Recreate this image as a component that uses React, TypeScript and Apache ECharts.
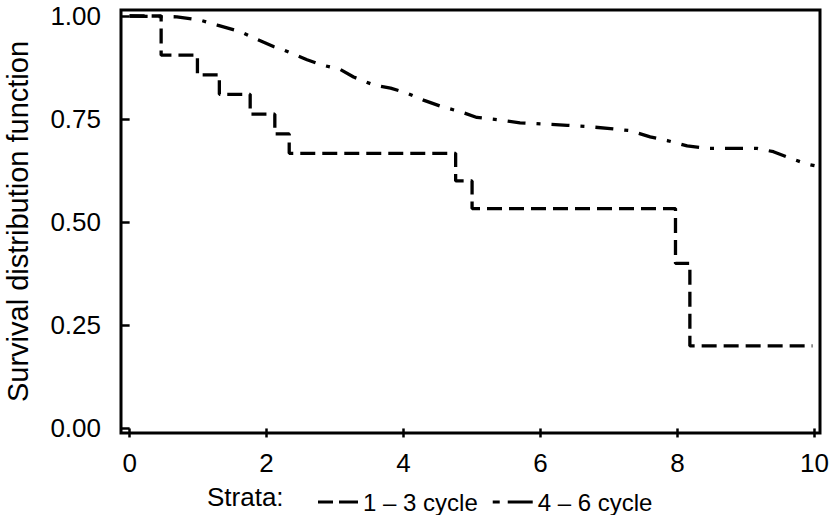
import React, { useEffect, useRef } from "react";
import * as echarts from "echarts";

// Kaplan–Meier estimates
const strata = ["1 – 3 cycle", "4 – 6 cycle"];

// 1 – 3 cycle: [time, survival] (step function, drop at each time)
const cycle13: [number, number][] = [
  [0, 1.0],
  [0.46, 0.905],
  [0.99, 0.857],
  [1.31, 0.81],
  [1.76, 0.762],
  [2.12, 0.714],
  [2.33, 0.667],
  [4.76, 0.6],
  [5.0, 0.533],
  [7.97, 0.4],
  [8.18, 0.2],
  [9.97, 0.2],
];

// 4 – 6 cycle: [time, survival] (many small steps, traced)
const cycle46: [number, number][] = [
  [0, 1.0],
  [0.69, 0.998],
  [1.03, 0.99],
  [1.28, 0.978],
  [1.62, 0.962],
  [1.81, 0.947],
  [2.1, 0.926],
  [2.24, 0.918],
  [2.59, 0.894],
  [2.79, 0.882],
  [3.08, 0.87],
  [3.27, 0.852],
  [3.56, 0.833],
  [3.81, 0.825],
  [4.05, 0.813],
  [4.29, 0.796],
  [4.58, 0.779],
  [4.83, 0.768],
  [5.07, 0.754],
  [5.41, 0.748],
  [5.7, 0.741],
  [6.04, 0.738],
  [6.39, 0.735],
  [6.68, 0.732],
  [7.02, 0.727],
  [7.31, 0.722],
  [7.6, 0.707],
  [7.85, 0.698],
  [8.14, 0.685],
  [8.43, 0.679],
  [9.16, 0.679],
  [9.4, 0.671],
  [9.65, 0.655],
  [9.89, 0.641],
  [10.0, 0.637],
];

const xTicks = [0, 2, 4, 6, 8, 10];
const yTicks = [0, 0.25, 0.5, 0.75, 1.0];

const FONT = "'Liberation Sans', Arial, Helvetica, sans-serif";

export default function App() {
  const ref = useRef<HTMLDivElement>(null);

  useEffect(() => {
    if (!ref.current) return;
    const chart = echarts.init(ref.current, undefined, { renderer: "svg" });
    chart.setOption({
      animation: false,
      backgroundColor: "#ffffff",
      textStyle: { fontFamily: FONT, color: "#000" },
      grid: {
        left: 121,
        right: 9,
        top: 10,
        bottom: 82,
        show: true,
        borderColor: "#000",
        borderWidth: 3,
        backgroundColor: "transparent",
        containLabel: false,
        outerBoundsMode: "none",
      },
      xAxis: {
        type: "value",
        min: -0.126,
        max: 10.08,
        splitLine: { show: false },
        axisLine: { show: false },
        axisTick: {
          show: true,
          customValues: xTicks,
          length: 9,
          lineStyle: { color: "#000", width: 2.5 },
        },
        axisLabel: {
          customValues: xTicks,
          color: "#000",
          fontSize: 26,
          fontFamily: FONT,
          margin: 17,
          formatter: (v: number) => String(v),
        },
      },
      yAxis: {
        type: "value",
        min: -0.011,
        max: 1.0145,
        name: "Survival distribution function",
        nameLocation: "middle",
        nameGap: 89,
        nameTextStyle: { fontSize: 29, color: "#000", fontFamily: FONT },
        splitLine: { show: false },
        axisLine: { show: false },
        axisTick: {
          show: true,
          customValues: yTicks,
          length: 9,
          lineStyle: { color: "#000", width: 2.5 },
        },
        axisLabel: {
          customValues: yTicks,
          color: "#000",
          fontSize: 26,
          fontFamily: FONT,
          margin: 20,
          formatter: (v: number) => v.toFixed(2),
        },
      },
      legend: {
        left: 313,
        top: 485,
        itemWidth: 40,
        itemHeight: 4,
        itemGap: 15,
        data: [
          { name: strata[0], icon: "path://M0,0H15V3H0Z M21,0H40V3H21Z" },
          { name: strata[1], icon: "path://M0,0H7V3H0Z M15,0H40V3H15Z" },
        ],
        itemStyle: { color: "#000" },
        textStyle: { fontSize: 24, color: "#000", fontFamily: FONT },
      },
      graphic: [
        {
          type: "text",
          left: 207,
          top: 484,
          style: {
            text: "Strata:",
            fontSize: 26,
            fontFamily: FONT,
            fill: "#000",
          },
        },
      ],
      series: [
        {
          name: strata[0],
          type: "line",
          step: "end",
          data: cycle13,
          showSymbol: false,
          symbol: "none",
          lineStyle: { color: "#000", width: 3.3, type: [15, 7] },
          itemStyle: { color: "#000" },
          z: 3,
        },
        {
          name: strata[1],
          type: "line",
          data: cycle46,
          showSymbol: false,
          symbol: "none",
          lineStyle: { color: "#000", width: 3.3, type: [18, 11, 4, 11] },
          itemStyle: { color: "#000" },
          z: 2,
        },
      ],
    });
    return () => chart.dispose();
  }, []);

  return (
    <div
      ref={ref}
      style={{ position: "absolute", left: 0, top: 0, width: 829, height: 515 }}
    />
  );
}
